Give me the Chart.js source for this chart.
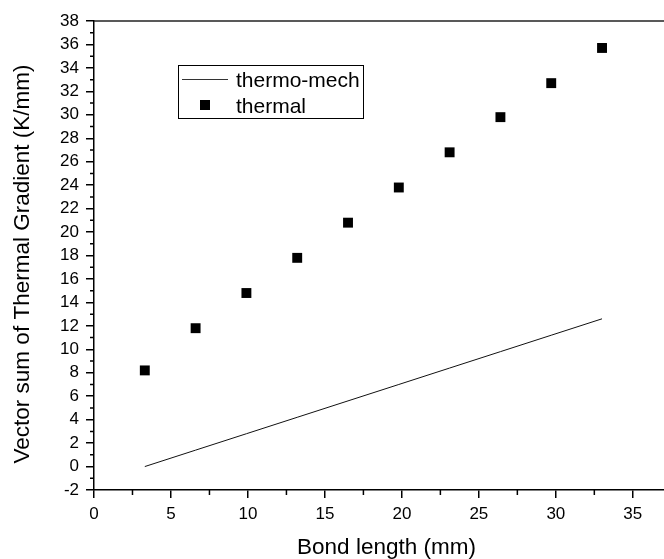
<!DOCTYPE html>
<html>
<head>
<meta charset="utf-8">
<script src="https://cdn.jsdelivr.net/npm/chart.js@4"></script>
<style>
  html, body { margin: 0; padding: 0; background: #fff; overflow: hidden; }
  #wrap { position: absolute; left: 0; top: 0; width: 686px; height: 559px; }
</style>
</head>
<body>
<div id="wrap"><canvas id="myChart" width="686" height="559"></canvas></div>
<script>
var FONT = "'Liberation Sans', Arial, sans-serif";

// data
var bondLength = [3.3, 6.6, 9.9, 13.2, 16.5, 19.8, 23.1, 26.4, 29.7, 33.0];
var thermal = [8.2, 11.8, 14.8, 17.8, 20.8, 23.8, 26.8, 29.8, 32.7, 35.7];
var thermoMech = [0, 1.4, 2.8, 4.2, 5.6, 7.0, 8.4, 9.8, 11.2, 12.6];
var seriesNames = ["thermo-mech", "thermal"];
var yTitle = 'Vector sum of Thermal Gradient (K/mm)';

function pts(xs, ys) {
    return xs.map(function (x, i) { return { x: x, y: ys[i] }; });
}

// minor ticks, top frame line, y title and the boxed legend
var extras = {
    id: 'extras',
    afterDraw: function (chart) {
        var ctx = chart.ctx;
        var a = chart.chartArea;
        var xs = chart.scales.x, ys = chart.scales.y;
        ctx.save();
        ctx.strokeStyle = '#000';
        ctx.lineWidth = 1.5;
        ctx.beginPath();
        for (var v = 2.5; v < 38; v += 5) {
            var px = xs.getPixelForValue(v);
            ctx.moveTo(px, a.bottom);
            ctx.lineTo(px, a.bottom + 5);
        }
        for (var w = -1; w < 38; w += 2) {
            var py = ys.getPixelForValue(w);
            ctx.moveTo(a.left, py);
            ctx.lineTo(a.left - 4, py);
        }
        ctx.stroke();

        // top frame
        ctx.strokeStyle = '#222';
        ctx.beginPath();
        ctx.moveTo(a.left, a.top);
        ctx.lineTo(a.right, a.top);
        ctx.stroke();

        // y title (sits a little below the axis centre in the original)
        ctx.fillStyle = '#000';
        ctx.font = '22.5px ' + FONT;
        ctx.textAlign = 'center';
        ctx.textBaseline = 'middle';
        ctx.translate(23, 264);
        ctx.rotate(-Math.PI / 2);
        ctx.fillText(yTitle, 0, 0);
        ctx.setTransform(1, 0, 0, 1, 0, 0);

        // legend
        ctx.lineWidth = 1;
        ctx.strokeStyle = '#000';
        ctx.strokeRect(178.5, 65.5, 185, 53);
        ctx.strokeStyle = '#333';
        ctx.beginPath();
        ctx.moveTo(182, 79.5);
        ctx.lineTo(228, 79.5);
        ctx.stroke();
        ctx.fillRect(200, 100, 10, 10);
        ctx.font = '21px ' + FONT;
        ctx.textBaseline = 'alphabetic';
        ctx.textAlign = 'left';
        ctx.fillText(seriesNames[0], 236, 87);
        ctx.fillText(seriesNames[1], 236, 113);
        ctx.restore();
    }
};

var config = {
    type: 'scatter',
    data: {
        datasets: [{
            label: seriesNames[0],
            data: pts(bondLength, thermoMech),
            showLine: true,
            borderColor: '#111',
            borderWidth: 1,
            pointRadius: 0
        }, {
            label: seriesNames[1],
            data: pts(bondLength, thermal),
            showLine: false,
            pointStyle: 'rect',
            pointRadius: 7,
            borderWidth: 0,
            backgroundColor: '#000'
        }]
    },
    options: {
        responsive: false,
        animation: false,
        layout: { padding: { top: 21, right: 0, bottom: 0, left: 0 } },
        plugins: { legend: { display: false }, tooltip: { enabled: false } },
        scales: {
            x: {
                type: 'linear',
                min: 0,
                max: 38,
                afterFit: function (s) { s.height = 69; s.paddingLeft = 0; s.paddingRight = 0; },
                ticks: {
                    stepSize: 5,
                    includeBounds: false,
                    padding: 6,
                    color: '#000',
                    font: { family: FONT, size: 17 },
                    maxRotation: 0
                },
                grid: { drawOnChartArea: false, drawTicks: true, tickLength: 8, color: '#000', lineWidth: 1.5 },
                border: { color: '#000', width: 1.5 },
                title: {
                    display: true,
                    text: 'Bond length (mm)',
                    color: '#000',
                    font: { family: FONT, size: 22.5, lineHeight: 1 },
                    padding: 0
                }
            },
            y: {
                min: -2,
                max: 38,
                afterFit: function (s) { s.width = 94; s.paddingTop = 0; s.paddingBottom = 0; },
                ticks: {
                    stepSize: 2,
                    padding: 7,
                    color: '#000',
                    font: { family: FONT, size: 17 }
                },
                grid: { drawOnChartArea: false, drawTicks: true, tickLength: 8, color: '#000', lineWidth: 1.5 },
                border: { color: '#000', width: 1.5 }
            }
        }
    },
    plugins: [extras]
};

var ctx = document.getElementById("myChart").getContext('2d');
var myChart = new Chart(ctx, config);
</script>
</body>
</html>
